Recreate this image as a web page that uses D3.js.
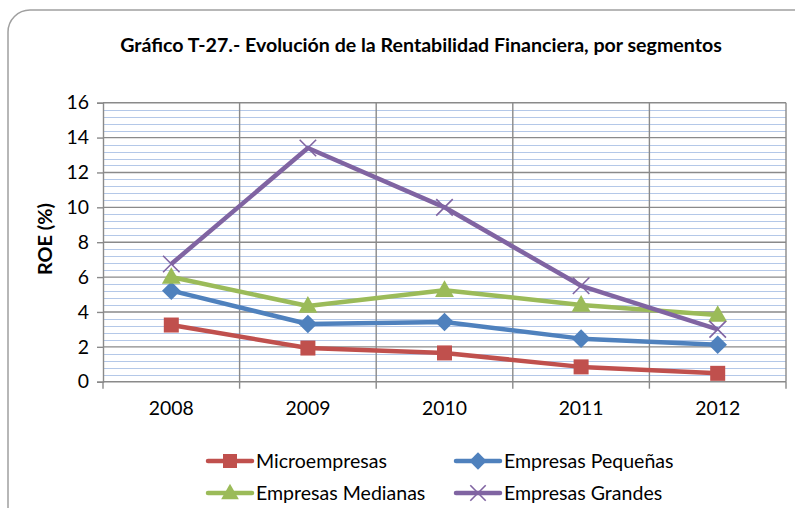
<!DOCTYPE html>
<html><head><meta charset="utf-8">
<script src="https://cdn.jsdelivr.net/npm/d3@7"></script>
<style>html,body{margin:0;padding:0;background:#fff;}svg{display:block;}</style>
</head><body>
<svg id="c" width="795" height="508"></svg>
<script>
const years = ["2008","2009","2010","2011","2012"];
const micro = [3.25, 1.93, 1.65, 0.85, 0.48];
const pequenas = [5.22, 3.31, 3.42, 2.47, 2.12];
const medianas = [6.0, 4.34, 5.25, 4.4, 3.82];
const grandes = [6.75, 13.4, 10.0, 5.5, 3.0];
const yTicks = [0, 2, 4, 6, 8, 10, 12, 14, 16];
const seriesNames = ["Microempresas", "Empresas Pequeñas", "Empresas Medianas", "Empresas Grandes"];
const titleText = "Gráfico T-27.- Evolución de la Rentabilidad Financiera, por segmentos";
const yTitle = "ROE (%)";

const series = [
  {name: seriesNames[0], values: micro, color: "#C0504D", marker: "square"},
  {name: seriesNames[1], values: pequenas, color: "#4F81BD", marker: "diamond"},
  {name: seriesNames[2], values: medianas, color: "#9BBB59", marker: "triangle"},
  {name: seriesNames[3], values: grandes, color: "#8064A2", marker: "x"}
];

const FONT = "Lato, 'Liberation Sans', sans-serif";
const svg = d3.select("#c");

function fitSize(str, target, weight) {
  const t = svg.append("text").attr("font-family", FONT).attr("font-size", 20)
    .attr("font-weight", weight || "normal").text(str);
  const w = t.node().getComputedTextLength();
  t.remove();
  return 20 * target / w;
}
const tickSize = fitSize("2008", 45);
const legSize = fitSize("Microempresas", 131);
const yTitleSize = fitSize(yTitle, 72, "bold");
const titleSize = fitSize(titleText, 602, "bold");

// chart frame (cropped at right & bottom)
svg.append("rect").attr("x", 8).attr("y", 10).attr("width", 820).attr("height", 520)
  .attr("rx", 22).attr("ry", 22).attr("fill", "#fff").attr("stroke", "#a0a0a0").attr("stroke-width", 1.5);

const L = 103, R = 786, T = 102.7, B = 381.7;
const x = d3.scaleBand().domain(years).range([L, R]).padding(0);
const y = d3.scaleLinear().domain([0, 16]).range([B, T]);

// minor gridlines
const minor = d3.range(0, 41).map(i => +(i * 0.4).toFixed(2)).filter(v => Math.abs(v / 2 - Math.round(v / 2)) > 1e-6);
svg.append("g").selectAll("line").data(minor).join("line")
  .attr("x1", L).attr("x2", R).attr("y1", d => Math.round(y(d)) + 0.5).attr("y2", d => Math.round(y(d)) + 0.5)
  .attr("stroke", "#b4c8e8").attr("stroke-width", 1.2);

// major horizontal gridlines
svg.append("g").selectAll("line").data(yTicks.slice(1)).join("line")
  .attr("x1", L).attr("x2", R).attr("y1", d => y(d)).attr("y2", d => y(d))
  .attr("stroke", "#8a8a8a").attr("stroke-width", 1.4);

// vertical gridlines at category boundaries
const bounds = years.map(d => x(d)).concat([R]);
svg.append("g").selectAll("line").data(bounds.slice(1)).join("line")
  .attr("x1", d => d).attr("x2", d => d).attr("y1", T).attr("y2", B)
  .attr("stroke", "#8a8a8a").attr("stroke-width", 1.4);

// axes
const yAxis = svg.append("g").attr("transform", `translate(${L},0)`)
  .call(d3.axisLeft(y).tickValues(yTicks).tickSize(6).tickPadding(6).tickFormat(d3.format("d")));
yAxis.select(".domain").attr("stroke", "#8a8a8a").attr("stroke-width", 1.4);
yAxis.selectAll(".tick line").attr("stroke", "#8a8a8a").attr("stroke-width", 1.4);
yAxis.selectAll(".tick text").attr("font-family", FONT).attr("font-size", tickSize).attr("fill", "#000").attr("dx", "-2");

const xAxis = svg.append("g").attr("transform", `translate(0,${B})`)
  .call(d3.axisBottom(x).tickSize(0).tickPadding(20));
xAxis.select(".domain").remove();
xAxis.selectAll(".tick text").attr("font-family", FONT).attr("font-size", tickSize).attr("fill", "#000");
svg.append("line").attr("x1", L).attr("x2", R).attr("y1", B).attr("y2", B)
  .attr("stroke", "#8a8a8a").attr("stroke-width", 1.4);
svg.append("g").selectAll("line").data(bounds).join("line")
  .attr("x1", d => d).attr("x2", d => d).attr("y1", B).attr("y2", B + 7)
  .attr("stroke", "#8a8a8a").attr("stroke-width", 1.4);

// title
svg.append("text").attr("x", 421).attr("y", 52).attr("text-anchor", "middle")
  .attr("font-family", FONT).attr("font-weight", "bold").attr("font-size", titleSize).text(titleText);

// y title
svg.append("text").attr("transform", `translate(52,239) rotate(-90)`).attr("text-anchor", "middle")
  .attr("font-family", FONT).attr("font-weight", "bold").attr("font-size", yTitleSize).text(yTitle);

function drawMarker(g, type, cx, cy, color, s) {
  if (type === "square") {
    g.append("rect").attr("x", cx - s / 2).attr("y", cy - s / 2).attr("width", s).attr("height", s).attr("fill", color);
  } else if (type === "diamond") {
    const h = s * 0.62;
    g.append("path").attr("d", `M${cx},${cy - h}L${cx + h},${cy}L${cx},${cy + h}L${cx - h},${cy}Z`).attr("fill", color);
  } else if (type === "triangle") {
    const h = s * 0.6;
    g.append("path").attr("d", `M${cx},${cy - h * 1.1}L${cx + h * 1.05},${cy + h * 0.75}L${cx - h * 1.05},${cy + h * 0.75}Z`).attr("fill", color);
  } else if (type === "x") {
    const h = s * 0.55;
    g.append("path").attr("d", `M${cx - h},${cy - h}L${cx + h},${cy + h}M${cx - h},${cy + h}L${cx + h},${cy - h}`)
      .attr("stroke", color).attr("stroke-width", 1.6).attr("fill", "none");
  }
}

const line = d3.line().x((d, i) => x(years[i]) + x.bandwidth() / 2).y(d => y(d));
const gS = svg.append("g");
series.forEach(s => {
  gS.append("path").attr("d", line(s.values)).attr("fill", "none").attr("stroke", s.color)
    .attr("stroke-width", 4.5).attr("stroke-linejoin", "round");
});
series.forEach(s => {
  const g = gS.append("g");
  s.values.forEach((v, i) => drawMarker(g, s.marker, x(years[i]) + x.bandwidth() / 2, y(v), s.color, 15));
});

// legend
const legPos = [[208, 461], [456, 461], [208, 493], [456, 493]];
series.forEach((s, i) => {
  const [lx, ly] = legPos[i];
  const g = svg.append("g");
  g.append("line").attr("x1", lx).attr("x2", lx + 44).attr("y1", ly).attr("y2", ly)
    .attr("stroke", s.color).attr("stroke-width", 4.5).attr("stroke-linecap", "round");
  drawMarker(g, s.marker, lx + 22, ly, s.color, 14);
  g.append("text").attr("x", lx + 48).attr("y", ly + 6.5).attr("font-family", FONT).attr("font-size", legSize)
    .attr("fill", "#000").text(s.name);
});
</script>
</body></html>
